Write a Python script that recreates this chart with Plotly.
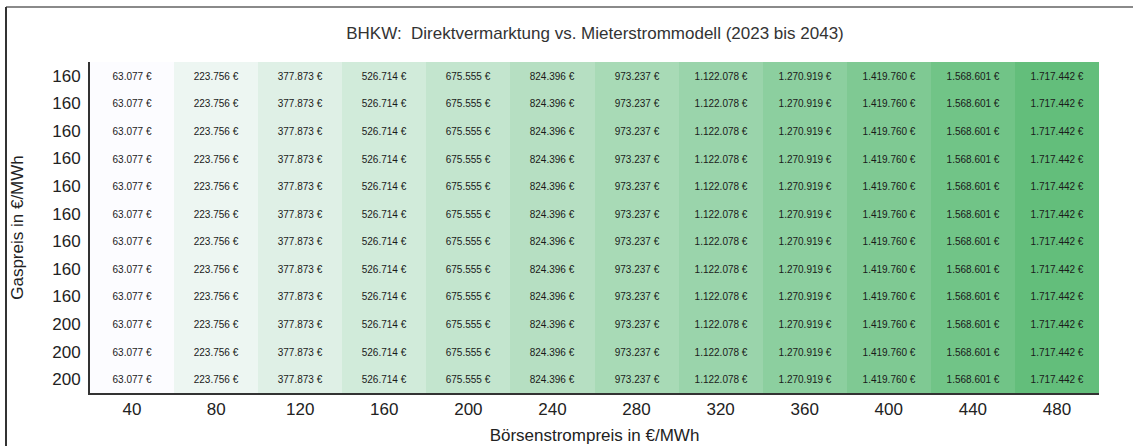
import plotly.graph_objects as go

# Börsenstrompreis (x) and Gaspreis (y) categories
strompreis = [40, 80, 120, 160, 200, 240, 280, 320, 360, 400, 440, 480]
gaspreis_labels = ["160"] * 9 + ["200"] * 3
werte = [63077, 223756, 377873, 526714, 675555, 824396, 973237,
         1122078, 1270919, 1419760, 1568601, 1717442]

W, H = 1133, 446
L, R, T, B = 90, 1099, 62, 393  # plot area in px


def eur(v):
    return f"{v:,}".replace(",", ".") + " €"


rows = list(range(len(gaspreis_labels)))
z = [werte[:] for _ in rows]
text = [[eur(v) for v in werte] for _ in rows]

fig = go.Figure(go.Heatmap(
    x=strompreis,
    y=rows,
    z=z,
    text=text,
    texttemplate="%{text}",
    textfont=dict(size=10, color="#1a1a1a", family="Arial"),
    colorscale=[[0, "#FCFCFF"], [1, "#63BE7B"]],
    showscale=False,
    hoverinfo="skip",
))


def px_x(p):
    return (p - L) / (R - L)


def px_y(p):
    return (B - p) / (B - T)


# outer chart frame (top and left edges)
fig.add_shape(type="line", xref="paper", yref="paper",
              x0=px_x(6), x1=px_x(W), y0=px_y(7), y1=px_y(7),
              line=dict(color="#8a8a8a", width=2))
fig.add_shape(type="line", xref="paper", yref="paper",
              x0=px_x(6), x1=px_x(6), y0=px_y(7), y1=px_y(H),
              line=dict(color="#333333", width=2))

fig.update_layout(
    width=W, height=H,
    margin=dict(l=L, r=W - R, t=T, b=H - B, autoexpand=False),
    paper_bgcolor="white",
    plot_bgcolor="white",
    font=dict(family="Arial", color="#222222"),
    title=dict(text="BHKW:  Direktvermarktung vs. Mieterstrommodell (2023 bis 2043)",
               x=595 / W, xref="container", xanchor="center",
               y=1 - 33 / H, yref="container", yanchor="middle",
               automargin=False,
               font=dict(size=17, color="#333333")),
)
fig.update_xaxes(
    tickvals=strompreis, ticktext=[str(s) for s in strompreis],
    tickfont=dict(size=17), showline=True, linecolor="#333333", linewidth=2,
    ticks="", showgrid=False, zeroline=False, automargin=False,
    title=dict(text="Börsenstrompreis in €/MWh", font=dict(size=17), standoff=11),
)
fig.update_yaxes(
    tickvals=rows, ticktext=gaspreis_labels, autorange="reversed",
    tickfont=dict(size=17), showline=True, linecolor="#333333", linewidth=2,
    ticks="", showgrid=False, zeroline=False, ticklabelstandoff=4,
    automargin=False,
    title=dict(text="Gaspreis in €/MWh", font=dict(size=17), standoff=24),
)

# drop the browser's default page margin so the figure sits at 0,0
fig.write_html("out.html", config={"displayModeBar": False},
               post_script="document.body.style.margin='0';")
